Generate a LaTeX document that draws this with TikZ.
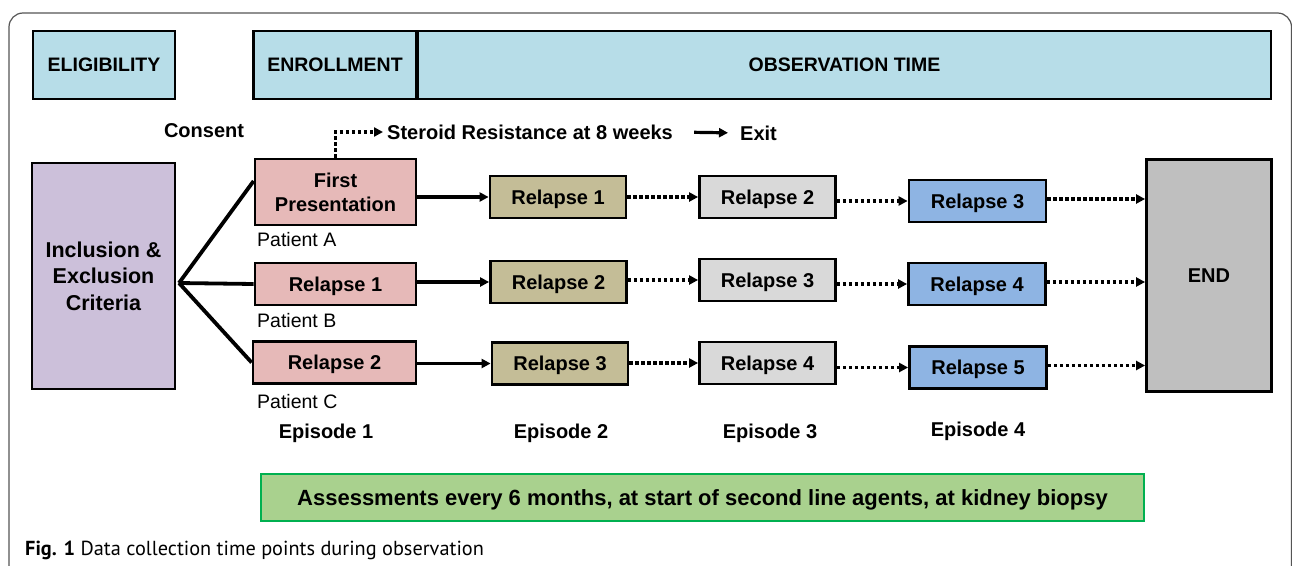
\documentclass[tikz,border=0pt]{standalone}
\usepackage{fontspec}
\setmainfont{Liberation Sans}
\newfontfamily\capfont{PT Sans}
\usepackage{tikz}
\usetikzlibrary{arrows.meta}
\definecolor{hdrblue}{HTML}{B7DDE8}
\definecolor{critpurple}{HTML}{CCC0DA}
\definecolor{eponepink}{HTML}{E6B9B8}
\definecolor{eptwoolive}{HTML}{C4BD97}
\definecolor{epthreegray}{HTML}{D9D9D9}
\definecolor{epfourblue}{HTML}{8EB4E3}
\definecolor{endgray}{HTML}{BFBFBF}
\definecolor{assessgreen}{HTML}{A9D18E}
\definecolor{assessborder}{HTML}{00B050}
\definecolor{framegray}{HTML}{555555}
\newcommand{\lblfont}{\fontsize{20}{24}\selectfont}

\begin{document}
\begin{tikzpicture}[x=1pt, y=-1pt,
  every node/.style = {font=\bfseries\lblfont, align=center, inner sep=0pt},
  box/.style = {draw=black, line width=2.8pt, rectangle, text depth=0pt},
  hdr/.style = {box, fill=hdrblue, minimum height=68pt, font=\bfseries\fontsize{19.5}{24}\selectfont},
  epone/.style = {box, fill=eponepink, minimum width=161pt, minimum height=42pt},
  eptwo/.style = {box, fill=eptwoolive, minimum width=136pt, minimum height=42pt},
  epthree/.style = {box, fill=epthreegray, minimum width=136pt, minimum height=42pt},
  epfour/.style = {box, fill=epfourblue, minimum width=137pt, minimum height=42pt},
  patient/.style = {font=\mdseries\fontsize{19.5}{24}\selectfont, anchor=west},
  fanline/.style = {line width=3.8pt},
  solidarrow/.style = {line width=3.2pt, -{Triangle[length=9pt,width=9pt]}},
  dotarrow/.style = {line width=3.2pt, dash pattern=on 3.2pt off 2.8pt,
    -{Triangle[length=9pt,width=9pt]}}]

  \useasboundingbox (0,0) rectangle (1292,565);
  % outer frame
  \draw[framegray, line width=1.2pt, rounded corners=14pt]
    (9,566) -- (9,13) -- (1291.5,13) -- (1291.5,566);

  % header row
  \node[hdr, minimum width=142pt] (elig) at (104,65) {ELIGIBILITY};
  \node[hdr, minimum width=163pt] (enrol) at (335,65) {ENROLLMENT};
  \node[hdr, minimum width=853pt] (obs) at (844.5,65) {OBSERVATION TIME};

  \node (consent) at (204,131) {Consent};
  \node[anchor=west] (steroid) at (387,132) {Steroid Resistance at 8 weeks};
  \node[anchor=west] (exit) at (740,133) {Exit};

  \node[box, fill=critpurple, minimum width=143pt, minimum height=226pt,
    font=\bfseries\fontsize{21.5}{26.5}\selectfont] (crit) at (103.5,276)
    {Inclusion \&\\ Exclusion\\ Criteria};

  % episode 1
  \node[epone, minimum height=66pt] (e1A) at (335.5,192) {First\\ Presentation};
  \node[epone] (e1B) at (335.5,284) {Relapse 1};
  \node[epone, minimum width=163pt] (e1C) at (334.5,362.5) {Relapse 2};
  \node[patient] (patA) at (257,240) {Patient A};
  \node[patient] (patB) at (257,321) {Patient B};
  \node[patient] (patC) at (257,402) {Patient C};

  % episode 2
  \node[eptwo] (e2A) at (558,197) {Relapse 1};
  \node[eptwo] (e2B) at (558.5,282) {Relapse 2};
  \node[eptwo] (e2C) at (560,363.5) {Relapse 3};

  % episode 3
  \node[epthree] (e3A) at (767.5,197) {Relapse 2};
  \node[epthree] (e3B) at (767.5,280) {Relapse 3};
  \node[epthree] (e3C) at (767.5,363) {Relapse 4};

  % episode 4
  \node[epfour] (e4A) at (977.5,201) {Relapse 3};
  \node[epfour] (e4B) at (977,284) {Relapse 4};
  \node[epfour] (e4C) at (978,367.5) {Relapse 5};

  \node[box, fill=endgray, minimum width=125pt, minimum height=232pt] (endbox)
    at (1209,275.5) {END};

  \node (epone) at (326,433) {Episode 1};
  \node (eptwo) at (561,433) {Episode 2};
  \node (epthree) at (770,433) {Episode 3};
  \node (epfour) at (978,431) {Episode 4};

  \node[fill=assessgreen, draw=assessborder, line width=1.6pt, text depth=0pt,
    minimum width=883pt, minimum height=47pt, font=\bfseries\fontsize{22}{26}\selectfont]
    (assess) at (702.5,497.5)
    {Assessments every 6 months, at start of second line agents, at kidney biopsy};

  \node[anchor=west, font=\capfont\fontsize{20.3}{24}\selectfont] (caption) at (25,550)
    {\textbf{Fig. 1} Data collection time points during observation};

  % connectors
  \coordinate (fork) at (179,283);
  \draw[fanline] (fork) -- ([yshift=11pt]e1A.west);
  \draw[fanline] (fork) -- (e1B.west);
  \draw[fanline] (fork) -- (e1C.west);

  \draw[dotarrow, shorten >=4pt] (e1A.north) |- (steroid.west);
  \draw[solidarrow, shorten <=21pt, shorten >=12pt] (steroid.east) -- (exit.west);

  \draw[solidarrow] (e1A.east |- e2A.west) -- (e2A.west);
  \draw[solidarrow] (e1B.east |- e2B.west) -- (e2B.west);
  \draw[solidarrow] (e1C.east |- e2C.west) -- (e2C.west);

  \draw[dotarrow] (e2A.east |- e3A.west) -- (e3A.west);
  \draw[dotarrow] (e2B.east |- e3B.west) -- (e3B.west);
  \draw[dotarrow] (e2C.east |- e3C.west) -- (e3C.west);

  \draw[dotarrow] (e3A.east |- e4A.west) -- (e4A.west);
  \draw[dotarrow] (e3B.east |- e4B.west) -- (e4B.west);
  \draw[dotarrow] (e3C.east |- e4C.west) -- (e4C.west);

  \draw[dotarrow] ([yshift=2pt]e4A.east) -- ([yshift=2pt]e4A.east -| endbox.west);
  \draw[dotarrow] ([yshift=2pt]e4B.east) -- ([yshift=2pt]e4B.east -| endbox.west);
  \draw[dotarrow] ([yshift=2pt]e4C.east) -- ([yshift=2pt]e4C.east -| endbox.west);
\end{tikzpicture}
\end{document}
